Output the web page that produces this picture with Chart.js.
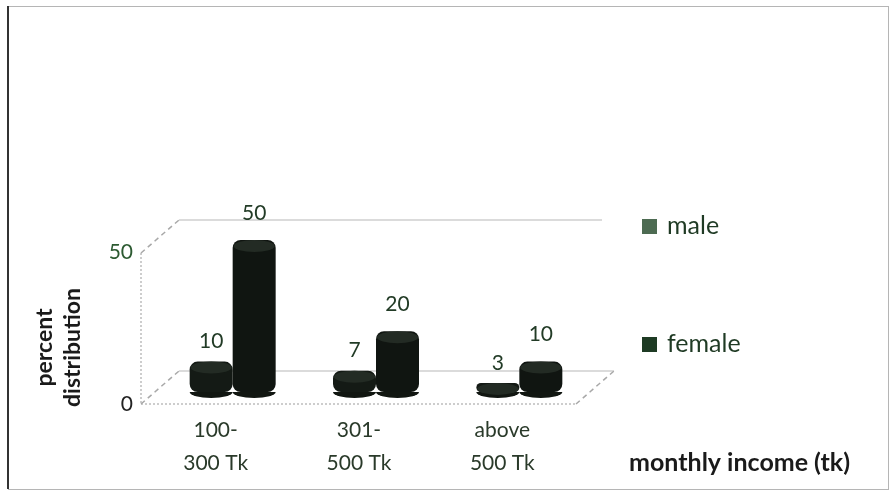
<!DOCTYPE html>
<html>
<head>
<meta charset="utf-8">
<script src="https://cdn.jsdelivr.net/npm/chart.js@4.4.0/dist/chart.umd.min.js"></script>
<style>
  html, body { margin: 0; padding: 0; background: #fff; }
  #wrap { width: 891px; height: 493px; }
</style>
</head>
<body>
<div id="wrap"><canvas id="incomeChart"></canvas></div>
<script>
const categories = [['100-', '300 Tk'], ['301-', '500 Tk'], ['above', '500 Tk']];
const maleValues = [10, 7, 3];
const femaleValues = [50, 20, 10];
const yTicks = [0, 50];
const seriesNames = ['male', 'female'];
const legendColors = ['#4d6b52', '#1e3b24'];

const FONT = 'Lato, "Open Sans", sans-serif';

// outer frame, 3D box lines, titles, legend
const frame3d = {
    id: 'frame3d',
    beforeDraw(chart) {
        const { ctx, width, height } = chart;
        ctx.save();
        ctx.fillStyle = '#fff';
        ctx.fillRect(0, 0, width, height);
        ctx.strokeStyle = '#b5b5b5';
        ctx.lineWidth = 1;
        ctx.strokeRect(8.5, 6.5, width - 11, height - 10);
        ctx.strokeStyle = '#333';
        ctx.lineWidth = 2;
        ctx.beginPath();
        ctx.moveTo(8, 6);
        ctx.lineTo(8, height - 4);
        ctx.stroke();
        ctx.restore();
    },
    beforeDatasetsDraw(chart) {
        const { ctx, chartArea, scales: { y } } = chart;
        const fx = chartArea.left - 20;
        const fr = chartArea.right - 15;
        const y0 = y.getPixelForValue(0) + 12;
        const y50 = y.getPixelForValue(50) + 13;
        const dx = 38, dy = -33;
        const seg = (a, b, c, d) => { ctx.beginPath(); ctx.moveTo(a, b); ctx.lineTo(c, d); ctx.stroke(); };
        ctx.save();
        ctx.strokeStyle = '#cfcfcf';
        ctx.lineWidth = 1.5;
        seg(fx + dx, y50 + dy, fr + dx - 12, y50 + dy);
        seg(fx + dx, y0 + dy, fr + dx, y0 + dy);
        ctx.strokeStyle = '#bdbdbd';
        ctx.setLineDash([2, 2]);
        seg(fx, y0, fr, y0);
        seg(fx, y50, fx, y0);
        ctx.strokeStyle = '#a8a8a8';
        ctx.setLineDash([5, 4]);
        seg(fx, y50, fx + dx, y50 + dy);
        seg(fx, y0, fx + dx, y0 + dy);
        seg(fr, y0, fr + dx, y0 + dy);
        ctx.restore();
    },
    afterDatasetsDraw(chart) {
        const { ctx } = chart;
        ctx.save();
        ctx.textAlign = 'center';
        ctx.textBaseline = 'middle';
        ctx.font = '21px ' + FONT;
        chart.data.datasets.forEach((ds, i) => {
            const meta = chart.getDatasetMeta(i);
            meta.data.forEach((bar, j) => {
                // cylinder top and bottom caps
                const rx = bar.width / 2;
                ctx.fillStyle = '#111611';
                ctx.beginPath();
                ctx.ellipse(bar.x, bar.base, rx, 6, 0, 0, Math.PI);
                ctx.fill();
                ctx.fillStyle = '#232b24';
                ctx.beginPath();
                ctx.ellipse(bar.x, bar.y + 6, rx - 1, 6, 0, 0, Math.PI * 2);
                ctx.fill();
                ctx.fillStyle = '#223b26';
                ctx.fillText(ds.data[j], bar.x, bar.y - (i === 0 ? 20 : 27));
            });
        });
        ctx.restore();
    },
    afterDraw(chart) {
        const { ctx, chartArea, scales: { y } } = chart;
        const y0 = y.getPixelForValue(0) + 12;
        const y50 = y.getPixelForValue(50) + 13;
        ctx.save();
        // y axis title
        ctx.fillStyle = '#1a1a1a';
        ctx.font = 'bold 23px ' + FONT;
        ctx.textAlign = 'center';
        ctx.textBaseline = 'middle';
        ctx.translate(chartArea.left - 116, (y0 + y50) / 2 + 19);
        ctx.rotate(-Math.PI / 2);
        ctx.fillText('percent', 0, 0);
        ctx.fillText('distribution', 0, 28);
        ctx.restore();

        ctx.save();
        ctx.fillStyle = '#1a1a1a';
        ctx.font = 'bold 25px ' + FONT;
        ctx.textAlign = 'right';
        ctx.textBaseline = 'middle';
        ctx.fillText('monthly income (tk)', chart.width - 41, chart.height - 30);

        // legend
        ctx.font = '25px ' + FONT;
        ctx.textAlign = 'left';
        const ly = [y50 - 27, y0 - 60];
        seriesNames.forEach((name, i) => {
            ctx.fillStyle = legendColors[i];
            ctx.fillRect(642, ly[i] - 7, 15, 15);
            ctx.fillStyle = '#1f3a24';
            ctx.fillText(name, 667, ly[i]);
        });
        ctx.restore();
    }
};

const barStyle = {
    categoryPercentage: 0.6,
    barPercentage: 1.0,
    borderSkipped: false,
    borderRadius: 8
};

const chart = new Chart(document.getElementById('incomeChart'), {
    type: 'bar',
    data: {
        labels: categories,
        datasets: [
            { label: seriesNames[0], data: maleValues, backgroundColor: '#141a15', ...barStyle },
            { label: seriesNames[1], data: femaleValues, backgroundColor: '#101511', ...barStyle }
        ]
    },
    options: {
        responsive: true,
        maintainAspectRatio: false,
        animation: false,
        layout: {
            padding: { left: 101, right: 300, top: 240, bottom: 15 }
        },
        plugins: {
            legend: { display: false },
            tooltip: { enabled: false }
        },
        scales: {
            x: {
                afterFit: scale => { scale.height = 86; },
                grid: { display: false },
                border: { display: false },
                ticks: {
                    color: '#2a3a2a',
                    font: { family: FONT, size: 21, lineHeight: 1.55 },
                    padding: 14,
                    labelOffset: -17,
                    maxRotation: 0,
                    autoSkip: false
                }
            },
            y: {
                min: 0,
                max: 50,
                afterBuildTicks: scale => { scale.ticks = yTicks.map(v => ({ value: v })); },
                afterFit: scale => { scale.width = 60; },
                grid: { display: false, drawTicks: false },
                border: { display: false },
                ticks: {
                    padding: 28,
                    labelOffset: 12,
                    color: c => c.tick.value === 50 ? '#2c5a31' : '#222',
                    font: { family: FONT, size: 21 }
                }
            }
        }
    },
    plugins: [frame3d]
});
</script>
</body>
</html>
